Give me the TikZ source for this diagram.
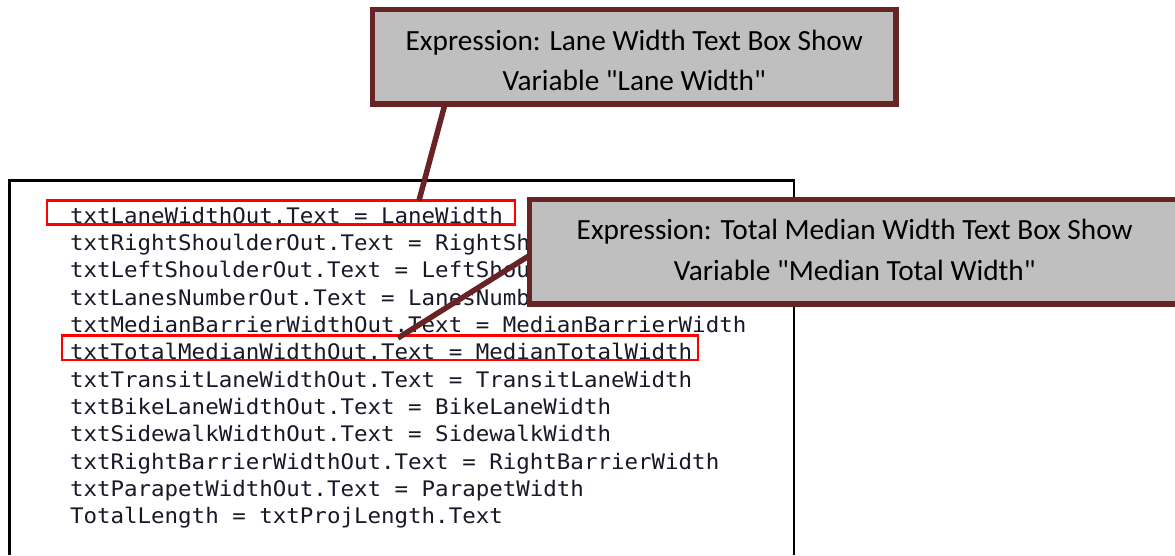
\documentclass[tikz,border=0pt]{standalone}
\usepackage{fontspec}
\setmainfont{Carlito}[Ligatures=TeXOff]
\newfontfamily\codefont[FakeStretch=1.05]{DejaVu Sans Mono}
\usetikzlibrary{calc}

\definecolor{calloutrim}{RGB}{104,36,36}
\definecolor{calloutfill}{RGB}{191,191,191}
\definecolor{codeink}{RGB}{24,24,40}
\definecolor{markred}{RGB}{255,0,0}

\tikzset{
  codeframe/.style={draw=black, line width=2.5pt},
  codeline/.style={anchor=base west, inner sep=0pt, outer sep=0pt, text=codeink,
                   font=\codefont\fontsize{21.4}{27}\selectfont},
  highlight/.style={draw=markred, line width=2.5pt, inner sep=0pt, outer sep=0pt},
  callout/.style={draw=calloutrim, fill=calloutfill, line width=5.5pt,
                  inner sep=0pt, outer sep=0pt},
  callouttext/.style={anchor=base, inner sep=0pt, outer sep=0pt, text=black,
                      font=\fontsize{29.3}{40}\selectfont},
  link/.style={draw=calloutrim, line width=5.5pt}
}

\begin{document}
\begin{tikzpicture}[x=1pt, y=-1pt]
\useasboundingbox (0,0) rectangle (1175,555);

% source listing window
\draw[codeframe] (9.5,555) -- (9.5,180.5) -- (794,180.5) -- (794,555);
\foreach \src [count=\i] in {
  txtLaneWidthOut.Text = LaneWidth,
  txtRightShoulderOut.Text = RightShoulderWidth,
  txtLeftShoulderOut.Text = LeftShoulderWidth,
  txtLanesNumberOut.Text = LanesNumber,
  txtMedianBarrierWidthOut.Text = MedianBarrierWidth,
  txtTotalMedianWidthOut.Text = MedianTotalWidth,
  txtTransitLaneWidthOut.Text = TransitLaneWidth,
  txtBikeLaneWidthOut.Text = BikeLaneWidth,
  txtSidewalkWidthOut.Text = SidewalkWidth,
  txtRightBarrierWidthOut.Text = RightBarrierWidth,
  txtParapetWidthOut.Text = ParapetWidth,
  TotalLength = txtProjLength.Text}
  \node[codeline] (line\i) at (70, {223 + 27.35*(\i-1)}) {\src};

% red marks around the two assignments
\node[highlight, minimum width=468pt, minimum height=24.2pt] (hl1) at (281,212.6) {};
\node[highlight, minimum width=636pt, minimum height=24.5pt] (hl2) at (380,347.75) {};

% first callout and its leader
\node[callout, minimum width=523.5pt, minimum height=94.5pt] (box1) at (634.25,56.75) {};
\draw[link] ($(box1.south)+(-189.25,0)$) -- ($(hl1.north)+(138,0)$);
\node[callouttext] (box1a) at (634.25,50) {Expression: Lane Width Text Box Show};
\node[callouttext] (box1b) at (634.25,90.7) {Variable "Lane Width"};

% second callout and its leader
\node[callout, minimum width=650.5pt, minimum height=104.5pt] (box2) at (854.75,251.75) {};
\draw[link] ($(box2.west)+(0,3.75)$) -- ($(hl2.north)+(18,2.5)$);
\node[callouttext] (box2a) at (854.75,239.4) {Expression: Total Median Width Text Box Show};
\node[callouttext] (box2b) at (854.75,280.6) {Variable "Median Total Width"};
\end{tikzpicture}
\end{document}
